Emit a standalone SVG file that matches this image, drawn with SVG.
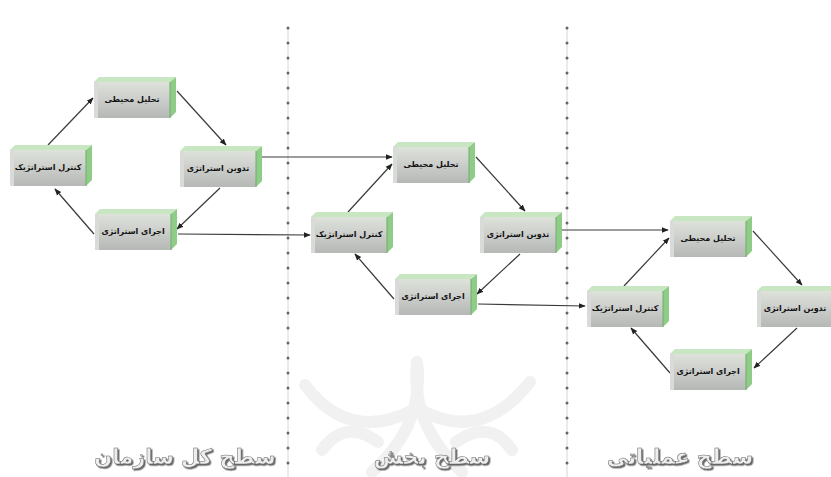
<svg xmlns="http://www.w3.org/2000/svg" width="831" height="477" viewBox="0 0 831 477">
<defs>
<linearGradient id="front" x1="0" y1="0" x2="0" y2="1">
<stop offset="0" stop-color="#dde2da"/>
<stop offset="0.5" stop-color="#cbcdca"/>
<stop offset="1" stop-color="#b6b8b5"/>
</linearGradient>
<filter id="emb" x="-5%" y="-20%" width="110%" height="150%">
<feDropShadow dx="1.5" dy="1.5" stdDeviation="0.6" flood-color="#555" flood-opacity="0.9"/>
</filter>
<marker id="ah" viewBox="0 0 10 10" refX="9" refY="5" markerWidth="7" markerHeight="7" orient="auto" markerUnits="userSpaceOnUse">
<path d="M0,1 L10,5 L0,9 z" fill="#222"/>
</marker>
<g id="box">
<rect x="0" y="5" width="76" height="36" fill="url(#front)"/>
<polygon points="0,5 5,0 82,0 76,5" fill="#c9e6c2"/>
<polygon points="76,5 82,0 82,35 76,41" fill="#8fcc88"/>
<rect x="0" y="5" width="4" height="36" fill="#d9dbd8"/>
<line x1="76" y1="5" x2="76" y2="41" stroke="#6fae68" stroke-width="1"/>
</g>
</defs>
<style>
.lbl{font-family:"DejaVu Sans",sans-serif;font-size:8px;font-weight:bold;fill:#111;text-anchor:middle;direction:rtl}
.lvl{font-family:"DejaVu Sans",sans-serif;font-size:21px;font-weight:bold;text-anchor:middle;direction:rtl;fill:#eeeeee;stroke:#666;stroke-width:0.5;filter:url(#emb)}
.con{stroke:#3a3a3a;stroke-width:1.2;fill:none;marker-end:url(#ah)}
.wm{stroke:#f1f1f1;stroke-width:12;fill:none;stroke-linecap:round}
</style>
<rect width="831" height="477" fill="#ffffff"/>
<g id="watermark">
<path class="wm" d="M305 385 Q350 445 417 408"/>
<path class="wm" d="M530 382 Q480 445 417 408"/>
<path class="wm" d="M417 362 Q425 425 372 472"/>
<path class="wm" d="M417 362 Q410 425 462 472"/>
<path class="wm" d="M322 450 Q345 418 378 442"/>
<path class="wm" d="M512 450 Q490 418 456 442"/>
</g>
<g id="dividers">
<line x1="288" y1="28" x2="288" y2="477" stroke="#cccccc" stroke-width="0.8"/>
<line x1="288" y1="28" x2="288" y2="477" stroke="#666" stroke-width="3" stroke-linecap="round" stroke-dasharray="0 15"/>
<line x1="567" y1="28" x2="567" y2="477" stroke="#cccccc" stroke-width="0.8"/>
<line x1="567" y1="28" x2="567" y2="477" stroke="#666" stroke-width="3" stroke-linecap="round" stroke-dasharray="0 15"/>
</g>
<g id="connectors">
<line class="con" x1="48" y1="145" x2="93" y2="98"/>
<line class="con" x1="177" y1="91" x2="226" y2="145"/>
<line class="con" x1="220" y1="188" x2="177" y2="229"/>
<line class="con" x1="94" y1="234" x2="55" y2="189"/>
<line class="con" x1="262" y1="157" x2="392" y2="157"/>
<line class="con" x1="178" y1="234" x2="310" y2="235"/>
<line class="con" x1="348" y1="212" x2="392" y2="164"/>
<line class="con" x1="476" y1="157" x2="525" y2="211"/>
<line class="con" x1="520" y1="254" x2="477" y2="294"/>
<line class="con" x1="394" y1="299" x2="355" y2="254"/>
<line class="con" x1="562" y1="230" x2="668" y2="230"/>
<line class="con" x1="478" y1="304" x2="585" y2="306"/>
<line class="con" x1="624" y1="286" x2="669" y2="238"/>
<line class="con" x1="753" y1="231" x2="802" y2="285"/>
<line class="con" x1="797" y1="328" x2="754" y2="368"/>
<line class="con" x1="670" y1="373" x2="631" y2="328"/>
</g>
<g id="n1-tahlil"><use href="#box" x="94" y="77"/><text class="lbl" x="132" y="102">تحلیل محیطی</text></g>
<g id="n1-kontrol"><use href="#box" x="10" y="145"/><text class="lbl" x="48" y="170">کنترل استراتژیک</text></g>
<g id="n1-tadvin"><use href="#box" x="180" y="146"/><text class="lbl" x="218" y="171">تدوین استراتژی</text></g>
<g id="n1-ejra"><use href="#box" x="95" y="209"/><text class="lbl" x="133" y="234">اجرای استراتژی</text></g>
<g id="n2-tahlil"><use href="#box" x="393" y="142"/><text class="lbl" x="431" y="167">تحلیل محیطی</text></g>
<g id="n2-kontrol"><use href="#box" x="311" y="212"/><text class="lbl" x="349" y="237">کنترل استراتژیک</text></g>
<g id="n2-tadvin"><use href="#box" x="480" y="212"/><text class="lbl" x="518" y="237">تدوین استراتژی</text></g>
<g id="n2-ejra"><use href="#box" x="395" y="274"/><text class="lbl" x="433" y="299">اجرای استراتژی</text></g>
<g id="n3-tahlil"><use href="#box" x="670" y="216"/><text class="lbl" x="708" y="241">تحلیل محیطی</text></g>
<g id="n3-kontrol"><use href="#box" x="587" y="286"/><text class="lbl" x="625" y="311">کنترل استراتژیک</text></g>
<g id="n3-tadvin"><use href="#box" x="757" y="286"/><text class="lbl" x="795" y="311">تدوین استراتژی</text></g>
<g id="n3-ejra"><use href="#box" x="670" y="349"/><text class="lbl" x="708" y="374">اجرای استراتژی</text></g>
<g id="levels">
<text class="lvl" x="185" y="464">سطح کل سازمان</text>
<text class="lvl" x="432" y="464">سطح بخش</text>
<text class="lvl" x="680" y="464">سطح عملیاتی</text>
</g>
</svg>
